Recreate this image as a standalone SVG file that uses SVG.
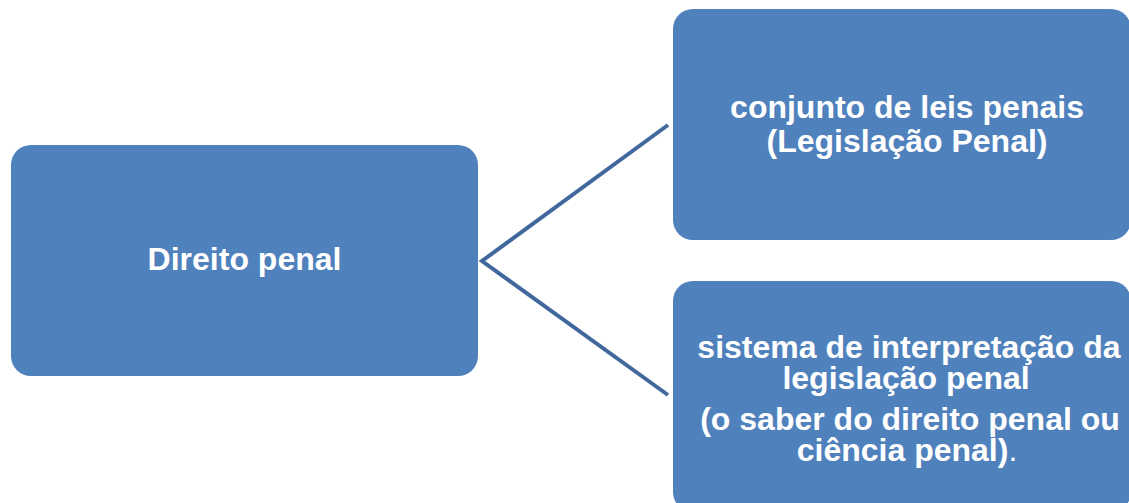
<svg xmlns="http://www.w3.org/2000/svg" width="1129" height="503" viewBox="0 0 1129 503">
<style>
.box{fill:#4F81BD;}
.t{font-family:"Liberation Sans",Arial,sans-serif;font-weight:bold;font-size:32px;fill:#FFFFFF;text-anchor:middle;}
.n{font-weight:normal;}
.c{stroke:#41689C;stroke-width:4;fill:none;}
</style>
<rect width="1129" height="503" fill="#FFFFFF"/>
<g id="connectors">
<polyline class="c" points="668,125 482,261 668,395"/>
</g>
<g id="direito-penal">
<rect class="box" x="11" y="145" width="467" height="231" rx="20" ry="20"/>
<text class="t" x="244.5" y="270">Direito penal</text>
</g>
<g id="conjunto-leis">
<rect class="box" x="673" y="9" width="458" height="231" rx="20" ry="20"/>
<text class="t" x="907" y="118">conjunto de leis penais</text>
<text class="t" x="907" y="152">(Legislação Penal)</text>
</g>
<g id="sistema-interpretacao">
<rect class="box" x="673" y="281" width="458" height="231" rx="20" ry="20"/>
<text class="t" x="909" y="358">sistema de interpretação da</text>
<text class="t" x="906" y="389">legislação penal</text>
<text class="t" x="910" y="430">(o saber do direito penal ou</text>
<text class="t" x="907" y="461">ciência penal)<tspan class="n">.</tspan></text>
</g>
</svg>
